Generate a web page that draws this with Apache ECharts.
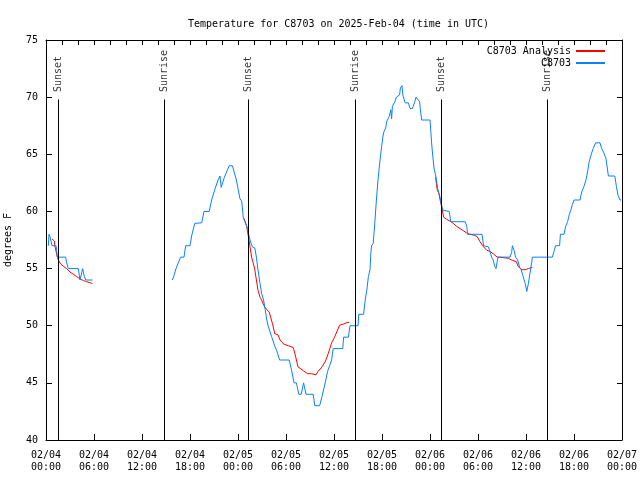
<!DOCTYPE html>
<html>
<head>
<meta charset="utf-8">
<script src="https://cdn.jsdelivr.net/npm/echarts@6/dist/echarts.min.js"></script>
<style>html,body{margin:0;padding:0;background:#fff;}#chart{width:640px;height:480px;}</style>
</head>
<body>
<div id="chart"></div>
<script>
// Hours since 2025-02-04 00:00 UTC
var obsHours = [0.29,0.375,0.5,0.625,0.75,1.25,1.33,1.42,2.46,2.58,2.8,4.04,4.17,4.25,4.46,4.58,4.79,4.96,5.83,
  10,
  15.8,16.0,16.25,16.54,16.83,17.25,17.46,18.0,18.2,18.6,18.75,19.46,19.75,20.4,20.7,21.1,21.5,21.75,21.9,22.3,22.9,23.3,23.8,24.25,24.46,24.67,24.875,25.16,25.3,25.5,25.8,26.1,26.3,26.5,26.75,26.96,27.2,27.4,27.6,27.8,28.0,28.2,28.4,28.6,28.8,29.2,30.4,30.7,31.0,31.3,31.6,31.9,32.2,32.5,33.4,33.6,34.2,34.5,34.9,35.2,35.4,35.7,35.9,37.1,37.2,37.8,38.0,39.0,39.1,39.7,39.9,40.1,40.3,40.5,40.6,40.7,40.9,41.1,41.3,41.5,41.75,41.96,42.1,42.25,42.46,42.6,42.9,43.1,43.2,43.3,43.6,43.8,44.2,44.3,44.5,44.6,44.9,45.3,45.5,45.8,46.1,46.25,46.5,46.7,46.8,46.96,48.0,48.1,48.2,48.3,48.5,48.75,48.96,49.2,49.4,49.6,49.7,50.4,50.6,52.4,52.6,52.7,54.5,54.7,55.3,55.5,55.7,55.9,56.1,56.25,56.4,56.5,58.0,58.2,58.3,58.5,58.7,58.96,59.2,59.4,59.6,59.9,60.1,60.3,60.5,60.7,60.8,63.3,63.5,63.7,64.2,64.3,64.75,64.96,65.2,65.4,65.6,65.8,66.0,66.75,66.96,67.25,67.5,67.7,67.9,68.2,68.4,68.7,69.25,69.46,69.75,70.0,70.3,71.1,71.3,71.5,71.75,71.9];
var obsTemps = [57.0,58.0,57.8,57.4,57.0,57.0,56.6,56.0,56.0,55.5,55.0,55.0,54.4,54.0,54.1,55.0,54.3,54.0,54.0,
  null,
  54.0,54.4,55.0,55.5,56.0,56.0,57.0,57.0,57.85,58.96,59.0,59.0,60.0,60.0,61.0,61.9,62.75,63.1,62.1,63.0,64.0,64.0,62.75,61.1,60.9,59.4,59.1,58.6,58.1,57.5,56.9,56.8,56.0,54.9,53.7,52.8,52.25,51.4,50.5,49.9,49.8,49.05,48.9,48.2,47.9,47.0,47.0,46.1,45.0,45.0,44.0,44.0,45.0,44.0,44.0,43.0,43.0,43.8,45.0,46.0,46.1,47.0,48.0,48.0,49.0,49.0,50.0,50.0,51.0,51.0,52.25,53.1,54.3,54.9,56.3,57.0,57.2,59.0,61.0,62.75,64.5,65.7,66.5,67.0,67.3,67.9,68.3,68.9,68.1,69.2,69.6,70.0,70.2,70.8,71.0,70.2,69.5,69.5,69.0,69.0,69.6,70.0,70.0,69.6,68.9,68.0,68.0,67.0,66.0,65.2,63.8,63.0,62.0,61.4,60.7,60.1,60.0,60.0,59.1,59.1,58.7,58.0,58.0,57.0,56.9,56.5,56.0,55.75,55.2,55.0,55.6,56.0,56.0,56.4,57.0,56.6,56.0,55.75,55.1,54.9,54.4,53.7,53.0,53.7,54.6,55.5,56.0,56.0,56.5,57.0,57.0,58.0,58.0,58.7,59.1,59.7,60.1,60.6,61.0,61.0,61.7,62.2,62.75,63.5,64.35,65.1,65.5,66.0,66.0,65.5,65.1,64.6,63.1,63.1,62.2,61.4,61.0,61.0];

var anaHours = [0.75,0.9,1.05,1.1,1.42,1.54,1.83,2.17,2.58,3.0,3.42,3.83,4.25,4.67,5.08,5.8,
  15,
  24.75,24.9,25.08,25.3,25.5,25.7,25.9,26.1,26.3,26.5,26.75,26.96,27.2,27.4,27.6,27.9,28.1,28.3,28.6,29.0,29.25,29.7,30.3,30.9,31.1,31.5,31.75,32.2,32.7,33.2,33.75,34.0,34.5,34.9,35.3,35.7,36.1,36.7,37.2,37.6,37.9,
  43,
  48.7,48.9,49.1,49.3,49.46,49.7,50.1,50.5,50.9,51.3,51.75,52.2,52.6,53.0,53.6,53.9,54.25,54.7,55.1,55.5,55.9,56.4,56.75,57.8,58.2,58.8,59.0,59.5,59.9,60.3,60.8];
var anaTemps = [57.6,57.6,57.4,57.0,56.0,55.75,55.4,55.2,55.0,54.7,54.5,54.3,54.1,53.95,53.85,53.7,
  null,
  59.4,59.4,58.7,57.8,56.9,56.0,55.5,54.9,54.0,53.1,52.5,52.25,51.8,51.7,51.4,51.2,51.1,50.2,49.3,49.2,48.75,48.4,48.25,48.1,47.6,46.4,46.3,46.05,45.8,45.8,45.7,46.0,46.4,46.85,47.6,48.5,49.05,50.05,50.15,50.27,50.3,
  null,
  63.0,61.9,61.6,60.9,60.4,59.5,59.3,59.15,58.96,58.7,58.5,58.3,58.1,58.0,57.9,57.8,57.35,56.9,56.6,56.5,56.3,56.0,56.0,55.9,55.75,55.6,55.2,54.9,54.9,55.0,55.1];

var eventHours = [1.5, 14.75, 25.3, 38.65, 49.4, 62.65];
var eventNames = ['Sunset', 'Sunrise', 'Sunset', 'Sunrise', 'Sunset', 'Sunrise'];
var eventLineTop = 69.8;
var eventLabelBase = 70.45;

var xTickHours = 6;
var yMin = 40, yMax = 75, yStep = 5;

function pairs(h, v) {
  return h.map(function (x, i) { return [x, v[i] == null ? '-' : v[i]]; });
}
function xLabel(v) {
  var day = 4 + Math.floor(v / 24);
  var hr = v % 24;
  return '02/' + (day < 10 ? '0' + day : day) + '\n' + (hr < 10 ? '0' + hr : hr) + ':00';
}

var FONT = 'DejaVu Sans Mono';
var chart = echarts.init(document.getElementById('chart'), null, {renderer: 'canvas'});
chart.setOption({
  animation: false,
  backgroundColor: '#fff',
  textStyle: {fontFamily: FONT, fontSize: 10, color: '#000'},
  title: {
    text: 'Temperature for C8703 on 2025-Feb-04 (time in UTC)',
    left: 183, top: 14,
    textStyle: {fontFamily: FONT, fontSize: 10, fontWeight: 'normal', color: '#000'}
  },
  grid: {left: 46, right: 18, top: 40, bottom: 40, containLabel: false, outerBoundsMode: 'none'},
  legend: {
    orient: 'vertical', right: 30, top: 40, align: 'right',
    itemWidth: 29, itemHeight: 2, itemGap: 0,
    icon: 'rect',
    data: ['C8703 Analysis', 'C8703'],
    textStyle: {fontFamily: FONT, fontSize: 10, color: '#000', lineHeight: 12}
  },
  xAxis: [{
    type: 'value', min: 0, max: 72, interval: xTickHours, position: 'bottom',
    axisLine: {show: true, onZero: false, lineStyle: {color: '#000', width: 1}},
    axisTick: {show: true, inside: true, length: 6, lineStyle: {color: '#000'}},
    axisLabel: {formatter: xLabel, margin: 9, fontFamily: FONT, fontSize: 10, color: '#000', lineHeight: 12},
    splitLine: {show: false}
  }, {
    type: 'value', min: 0, max: 72, interval: 2, position: 'top',
    axisLine: {show: true, onZero: false, lineStyle: {color: '#000', width: 1}},
    axisTick: {show: true, inside: true, length: 5, lineStyle: {color: '#000'}},
    axisLabel: {show: false},
    splitLine: {show: false}
  }],
  yAxis: [{
    type: 'value', min: yMin, max: yMax, interval: yStep, position: 'left',
    name: 'degrees F', nameLocation: 'middle', nameGap: 33, nameRotate: 90,
    nameTextStyle: {fontFamily: FONT, fontSize: 10, color: '#000'},
    axisLine: {show: true, onZero: false, lineStyle: {color: '#000', width: 1}},
    axisTick: {show: true, inside: true, length: 6, lineStyle: {color: '#000'}},
    axisLabel: {margin: 8, fontFamily: FONT, fontSize: 10, color: '#000'},
    splitLine: {show: false}
  }, {
    type: 'value', min: yMin, max: yMax, interval: yStep, position: 'right',
    axisLine: {show: true, onZero: false, lineStyle: {color: '#000', width: 1}},
    axisTick: {show: true, inside: true, length: 5, lineStyle: {color: '#000'}},
    axisLabel: {show: false},
    splitLine: {show: false}
  }],
  series: [{
    name: 'events', type: 'scatter', symbolSize: 0, silent: true,
    data: eventHours.map(function (h, i) { return {name: eventNames[i], value: [h, eventLabelBase]}; }),
    label: {
      show: true, position: 'inside', rotate: 90, align: 'left', verticalAlign: 'middle',
      formatter: '{b}', fontFamily: FONT, fontSize: 10, color: '#000'
    },
    markLine: {
      silent: true, symbol: ['none', 'none'], animation: false,
      lineStyle: {color: '#000', width: 1, type: 'solid'},
      label: {show: false},
      emphasis: {disabled: true},
      data: eventHours.map(function (h) { return [{coord: [h, yMin]}, {coord: [h, eventLineTop]}]; })
    }
  }, {
    name: 'C8703 Analysis', type: 'line', showSymbol: false, connectNulls: false,
    color: '#ff0000',
    lineStyle: {color: '#ff0000', width: 1},
    data: pairs(anaHours, anaTemps)
  }, {
    name: 'C8703', type: 'line', showSymbol: false, connectNulls: false,
    color: '#0a80ff',
    lineStyle: {color: '#0a80ff', width: 1},
    data: pairs(obsHours, obsTemps)
  }]
});
</script>
</body>
</html>
